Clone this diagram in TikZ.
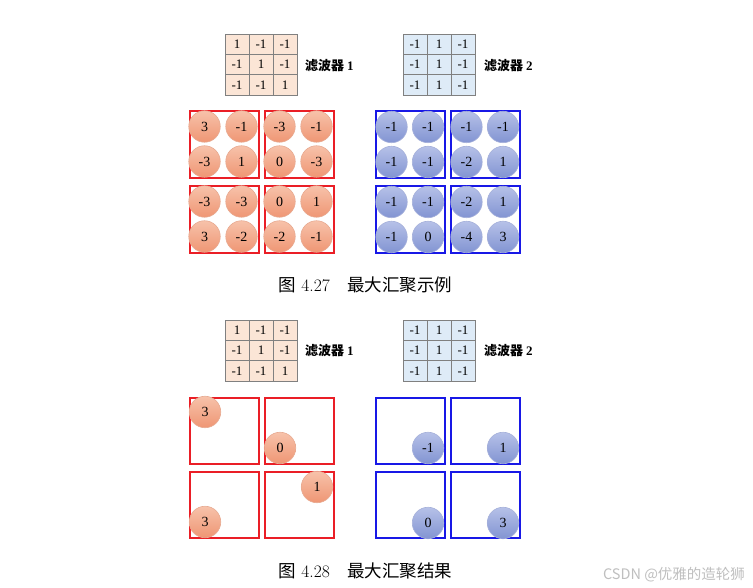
\documentclass[tikz,border=0pt]{standalone}
\usepackage{fontspec}
\usetikzlibrary{calc}
\newfontfamily\tnr{Liberation Serif}
\newfontfamily\cjk{Noto Sans CJK SC}
\definecolor{cellgray}{RGB}{128,128,128}
\definecolor{peach}{RGB}{251,229,214}
\definecolor{paleblue}{RGB}{222,235,247}
\definecolor{boxred}{RGB}{234,30,38}
\definecolor{boxblue}{RGB}{24,24,230}
\definecolor{rtop}{RGB}{247,194,170}
\definecolor{rbot}{RGB}{239,150,116}
\definecolor{rline}{RGB}{232,170,145}
\definecolor{btop}{RGB}{182,193,232}
\definecolor{bbot}{RGB}{130,148,210}
\definecolor{bline}{RGB}{165,176,218}
\newcommand{\filtertab}[5]{%
  \foreach \v [count=\i from 0] in {#5} {
    \pgfmathtruncatemacro\rr{div(\i,3)}
    \pgfmathtruncatemacro\cc{mod(\i,3)}
    \node[cell, fill=#4] (#1-\rr-\cc) at ({#2+12+24*\cc},{#3+10.17+20.33*\rr}) {\v};
  }}
\begin{document}
\begin{tikzpicture}[x=1pt,y=-1pt,
  cell/.style={draw=cellgray, line width=0.8pt, minimum width=24pt, minimum height=20.33pt, inner sep=0pt, font=\tnr\fontsize{13}{13}\selectfont},
  lab/.style={anchor=west, inner sep=0pt, font=\cjk\bfseries\fontsize{13}{13}\selectfont},
  figcap/.style={inner sep=0pt, font=\fontsize{17.5}{17.5}\selectfont},
  rbox/.style={draw=boxred, line width=1.8pt, minimum width=69.3pt, minimum height=67.3pt, anchor=north west, inner sep=0pt},
  bbox/.style={draw=boxblue, line width=1.8pt, minimum width=69.3pt, minimum height=67.3pt, anchor=north west, inner sep=0pt},
  rdot/.style={circle, minimum size=31.5pt, inner sep=0pt, top color=rtop, bottom color=rbot, draw=rline, line width=0.6pt, font=\tnr\fontsize{14}{14}\selectfont},
  bdot/.style={circle, minimum size=31.5pt, inner sep=0pt, top color=btop, bottom color=bbot, draw=bline, line width=0.6pt, font=\tnr\fontsize{14}{14}\selectfont}]
\useasboundingbox[fill=white] (0,0) rectangle (753,588);

% ---------- Figure 4.27 ----------
\filtertab{fa}{225}{34}{peach}{1,-1,-1,-1,1,-1,-1,-1,1}
\filtertab{fb}{403}{34}{paleblue}{-1,1,-1,-1,1,-1,-1,1,-1}
\node[lab] (la) at (305,66) {滤波器 \tnr 1};
\node[lab] (lb) at (484,66) {滤波器 \tnr 2};

\foreach \n/\x/\y/\a/\b/\c/\d in {ra/188.9/109.9/3/-1/-3/1, rb/263.9/109.9/-3/-1/0/-3, rc/188.9/184.9/-3/-3/3/-2, rd/263.9/184.9/0/1/-2/-1}{
  \node[rbox] (\n) at (\x,\y) {};
  \node[rdot] (\n-a) at ($(\n.north west)+(15.6,16.6)$) {\a};
  \node[rdot] (\n-b) at ($(\n.north west)+(52.6,16.6)$) {\b};
  \node[rdot] (\n-c) at ($(\n.north west)+(15.6,51.6)$) {\c};
  \node[rdot] (\n-d) at ($(\n.north west)+(52.6,51.6)$) {\d};
}
\foreach \n/\x/\y/\a/\b/\c/\d in {ba/374.9/109.9/-1/-1/-1/-1, bb/449.9/109.9/-1/-1/-2/1, bc/374.9/184.9/-1/-1/-1/0, bd/449.9/184.9/-2/1/-4/3}{
  \node[bbox] (\n) at (\x,\y) {};
  \node[bdot] (\n-a) at ($(\n.north west)+(16.6,17.1)$) {\a};
  \node[bdot] (\n-b) at ($(\n.north west)+(53.1,17.1)$) {\b};
  \node[bdot] (\n-c) at ($(\n.north west)+(16.6,52.1)$) {\c};
  \node[bdot] (\n-d) at ($(\n.north west)+(53.1,52.1)$) {\d};
}
\node[figcap] (cap1) at (365.5,285) {{\cjk 图} 4.27\quad{\cjk 最大汇聚示例}};

% ---------- Figure 4.28 ----------
\filtertab{fc}{225}{320}{peach}{1,-1,-1,-1,1,-1,-1,-1,1}
\filtertab{fd}{403}{320}{paleblue}{-1,1,-1,-1,1,-1,-1,1,-1}
\node[lab] (lc) at (305,351) {滤波器 \tnr 1};
\node[lab] (ld) at (484,351) {滤波器 \tnr 2};

\foreach \n/\x/\y/\ox/\oy/\v in {re/188.9/396.9/16.1/15.1/3, rf/263.9/396.9/16.1/51.1/0, rg/188.9/470.9/16.1/51.1/3, rh/263.9/470.9/53.1/16.1/1}{
  \node[rbox, minimum height=66.3pt] (\n) at (\x,\y) {};
  \node[rdot] (\n-m) at ($(\n.north west)+(\ox,\oy)$) {\v};
}
\foreach \n/\x/\y/\ox/\oy/\v in {be/374.9/396.9/53.1/51.1/-1, bf/449.9/396.9/53.1/51.1/1, bg/374.9/470.9/53.1/52.1/0, bh/449.9/470.9/53.1/52.1/3}{
  \node[bbox, minimum height=66.3pt] (\n) at (\x,\y) {};
  \node[bdot] (\n-m) at ($(\n.north west)+(\ox,\oy)$) {\v};
}
\node[figcap] (cap2) at (365.5,571) {{\cjk 图} 4.28\quad{\cjk 最大汇聚结果}};

\node[inner sep=0pt, text=black!25, font=\cjk\fontsize{14.5}{14.5}\selectfont] (wm) at (674,575) {CSDN @优雅的造轮狮};
\end{tikzpicture}
\end{document}
